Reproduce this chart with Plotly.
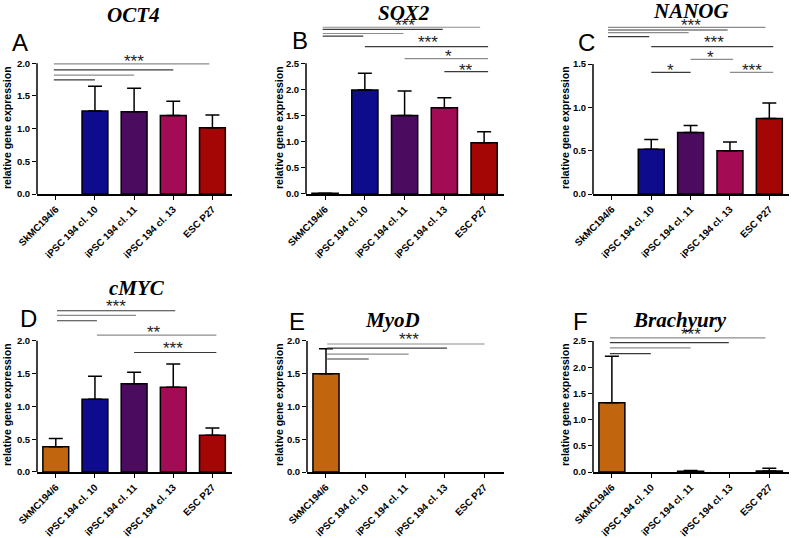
import plotly.graph_objects as go

W, H = 792, 538

# ---------------- data ----------------
groups = ["SkMC194/6", "iPSC 194 cl. 10", "iPSC 194 cl. 11", "iPSC 194 cl. 13", "ESC P27"]
bar_colors = ["#C2650F", "#0E0C8C", "#4B0B5F", "#A30B54", "#A40505"]

oct4 = [0, 1.27, 1.26, 1.20, 1.015]
oct4_err = [0, 0.38, 0.36, 0.22, 0.195]
sox2 = [0.015, 1.99, 1.50, 1.65, 0.98]
sox2_err = [0, 0.32, 0.47, 0.19, 0.21]
nanog = [0, 0.515, 0.71, 0.50, 0.87]
nanog_err = [0, 0.115, 0.08, 0.10, 0.18]
cmyc = [0.386, 1.11, 1.345, 1.29, 0.56]
cmyc_err = [0.125, 0.35, 0.175, 0.355, 0.11]
myod = [1.50, 0, 0, 0, 0]
myod_err = [0.38, 0, 0, 0, 0]
brachyury = [1.32, 0, 0.015, 0, 0.02]
brachyury_err = [0.89, 0, 0.015, 0, 0.05]

yticks_2 = [0, 0.5, 1.0, 1.5, 2.0]
yticks_25 = [0, 0.5, 1.0, 1.5, 2.0, 2.5]
yticks_15 = [0, 0.5, 1.0, 1.5]

# significance brackets: (start category, end category, y level)
sig_oct4 = [(-0.05, 1, 1.745), (-0.05, 2, 1.82), (-0.05, 3, 1.90), (-0.05, 3.92, 1.99)]
stars_oct4 = [("***", 2, 2.07)]
sig_sox2 = [(-0.06, 0.96, 3.02), (-0.06, 1.97, 3.07), (-0.06, 2.96, 3.15), (-0.06, 3.9, 3.19),
            (1, 4.1, 2.82), (2, 4.1, 2.59), (3, 4.1, 2.34)]
stars_sox2 = [("***", 2, 3.28), ("***", 2.6, 2.95), ("*", 3.1, 2.68), ("**", 3.55, 2.42)]
sig_nanog = [(-0.1, 0.95, 1.815), (-0.1, 1.95, 1.861), (-0.1, 2.94, 1.892), (-0.1, 3.9, 1.923),
             (1, 4.1, 1.70), (2, 3.08, 1.554), (1, 2, 1.404), (3, 4.1, 1.404)]
stars_nanog = [("***", 2, 1.98), ("***", 2.6, 1.777), ("*", 2.5, 1.615), ("*", 1.5, 1.46), ("***", 3.55, 1.46)]
sig_cmyc = [(0.03, 1.05, 2.304), (0.03, 2.05, 2.386), (0.03, 3.05, 2.456),
            (1.05, 4.1, 2.086), (2, 4.1, 1.82)]
stars_cmyc = [("***", 1.55, 2.56), ("**", 2.5, 2.17), ("***", 3.0, 1.92)]
sig_myod = [(0.03, 1.08, 1.725), (0.03, 2.09, 1.80), (0.03, 3.06, 1.89), (0.03, 4.01, 1.954)]
stars_myod = [("***", 2.1, 2.07)]
sig_brachyury = [(-0.05, 0.99, 2.26), (-0.05, 2.0, 2.37), (-0.05, 2.97, 2.47), (-0.05, 3.9, 2.56)]
stars_brachyury = [("***", 2, 2.68)]

panels = [
    dict(title="OCT4", letter="A", v=oct4, e=oct4_err, ticks=yticks_2, sig=sig_oct4, stars=stars_oct4,
         xL=37, xR=232, y0=194, ytp=63.3, ymax=2.2, title_xy=(133, 15), letter_xy=(20, 42), ytitle_xy=(7, 128)),
    dict(title="SOX2", letter="B", v=sox2, e=sox2_err, ticks=yticks_25, sig=sig_sox2, stars=stars_sox2,
         xL=306, xR=504, y0=194, ytp=63.3, ymax=3.4, title_xy=(404, 13), letter_xy=(300, 40), ytitle_xy=(279, 128)),
    dict(title="NANOG", letter="C", v=nanog, e=nanog_err, ticks=yticks_15, sig=sig_nanog, stars=stars_nanog,
         xL=593, xR=789, y0=194, ytp=64, ymax=2.05, title_xy=(691, 11), letter_xy=(586, 42), ytitle_xy=(565, 128)),
    dict(title="cMYC", letter="D", v=cmyc, e=cmyc_err, ticks=yticks_2, sig=sig_cmyc, stars=stars_cmyc,
         xL=37, xR=232, y0=472, ytp=340.7, ymax=2.65, title_xy=(137, 288), letter_xy=(28, 318), ytitle_xy=(7, 405)),
    dict(title="MyoD", letter="E", v=myod, e=myod_err, ticks=yticks_2, sig=sig_myod, stars=stars_myod,
         xL=307, xR=504, y0=472, ytp=341, ymax=2.15, title_xy=(392, 320), letter_xy=(297, 321), ytitle_xy=(279, 405)),
    dict(title="Brachyury", letter="F", v=brachyury, e=brachyury_err, ticks=yticks_25, sig=sig_brachyury,
         stars=stars_brachyury, xL=593, xR=789, y0=472, ytp=341, ymax=2.8, title_xy=(680, 320),
         letter_xy=(580, 321), ytitle_xy=(565, 405)),
]

SANS = "Liberation Sans, Arial, sans-serif"
SERIF = "Liberation Serif, Times New Roman, serif"
DARK = "#3a3a3a"
GRAY = "#8c8c8c"

fig = go.Figure()
annotations = []
shapes = []
layout = {}
cats = list(range(len(groups)))

for i, p in enumerate(panels):
    n = "" if i == 0 else str(i + 1)
    xa, ya = "x" + n, "y" + n
    ppu = (p["y0"] - p["ytp"]) / p["ticks"][-1]
    top_px = p["y0"] - p["ymax"] * ppu
    layout["xaxis" + n] = dict(
        domain=[p["xL"] / W, p["xR"] / W], anchor=ya, range=[-0.48, 4.5], automargin=False,
        tickmode="array", tickvals=cats, ticktext=groups, tickangle=-45,
        ticks="outside", ticklen=4, tickwidth=1.2, tickcolor="black",
        showline=True, linecolor="black", linewidth=1.5,
        showgrid=False, zeroline=False,
        tickfont=dict(family=SANS, size=9.8, color="black", weight="bold"),
    )
    layout["yaxis" + n] = dict(
        domain=[1 - p["y0"] / H, 1 - top_px / H], anchor=xa, range=[0, p["ymax"]], automargin=False,
        tickmode="array", tickvals=p["ticks"], ticktext=["%.1f" % t for t in p["ticks"]],
        ticks="outside", ticklen=4, tickwidth=1.2, tickcolor="black",
        showline=False, showgrid=False, zeroline=False,
        tickfont=dict(family=SANS, size=9.5, color="black", weight="bold"),
    )
    # y axis line from 0 to the top tick only
    shapes.append(dict(type="line", xref="paper", yref=ya, x0=p["xL"] / W, x1=p["xL"] / W,
                       y0=0, y1=p["ticks"][-1], line=dict(color="black", width=1.5)))

    vals = [v if v > 0 else None for v in p["v"]]
    err = [e if e > 0 else None for e in p["e"]]
    fig.add_trace(go.Bar(
        x=cats, y=vals, width=0.66, xaxis=xa, yaxis=ya,
        marker=dict(color=bar_colors, line=dict(color="black", width=1.5)),
        error_y=dict(type="data", array=err, arrayminus=[0] * 5, symmetric=False,
                     color="black", thickness=1.5, width=7),
        showlegend=False, hoverinfo="skip",
    ))
    for k, (a, b, yv) in enumerate(p["sig"]):
        fig.add_trace(go.Scatter(
            x=[a, b], y=[yv, yv], mode="lines", xaxis=xa, yaxis=ya,
            line=dict(color=DARK if k % 2 == 0 else GRAY, width=1.2),
            showlegend=False, hoverinfo="skip",
        ))
    for txt, sx, sy in p["stars"]:
        annotations.append(dict(text=txt, x=sx, y=sy, xref=xa, yref=ya, showarrow=False,
                                xanchor="center", yanchor="middle", yshift=-3,
                                font=dict(family=SANS, size=17, color="#222")))
    tx, ty = p["title_xy"]
    annotations.append(dict(text="<b><i>%s</i></b>" % p["title"], x=tx / W, y=1 - ty / H,
                            xref="paper", yref="paper", showarrow=False,
                            xanchor="center", yanchor="middle",
                            font=dict(family=SERIF, size=21, color="black")))
    lx, ly = p["letter_xy"]
    annotations.append(dict(text=p["letter"], x=lx / W, y=1 - ly / H,
                            xref="paper", yref="paper", showarrow=False,
                            xanchor="center", yanchor="middle",
                            font=dict(family=SANS, size=24, color="black")))
    yx, yy = p["ytitle_xy"]
    annotations.append(dict(text="<b>relative gene expression</b>", x=yx / W, y=1 - yy / H,
                            xref="paper", yref="paper", showarrow=False, textangle=-90,
                            xanchor="center", yanchor="middle",
                            font=dict(family=SANS, size=10.5, color="black")))

fig.update_layout(
    width=W, height=H, margin=dict(l=0, r=0, t=0, b=0),
    paper_bgcolor="white", plot_bgcolor="white", showlegend=False,
    annotations=annotations, shapes=shapes, bargap=0.3, **layout,
)

fig.write_html("out.html", config={"displayModeBar": False},
               post_script="document.body.style.margin='0';document.body.style.overflow='hidden';")
